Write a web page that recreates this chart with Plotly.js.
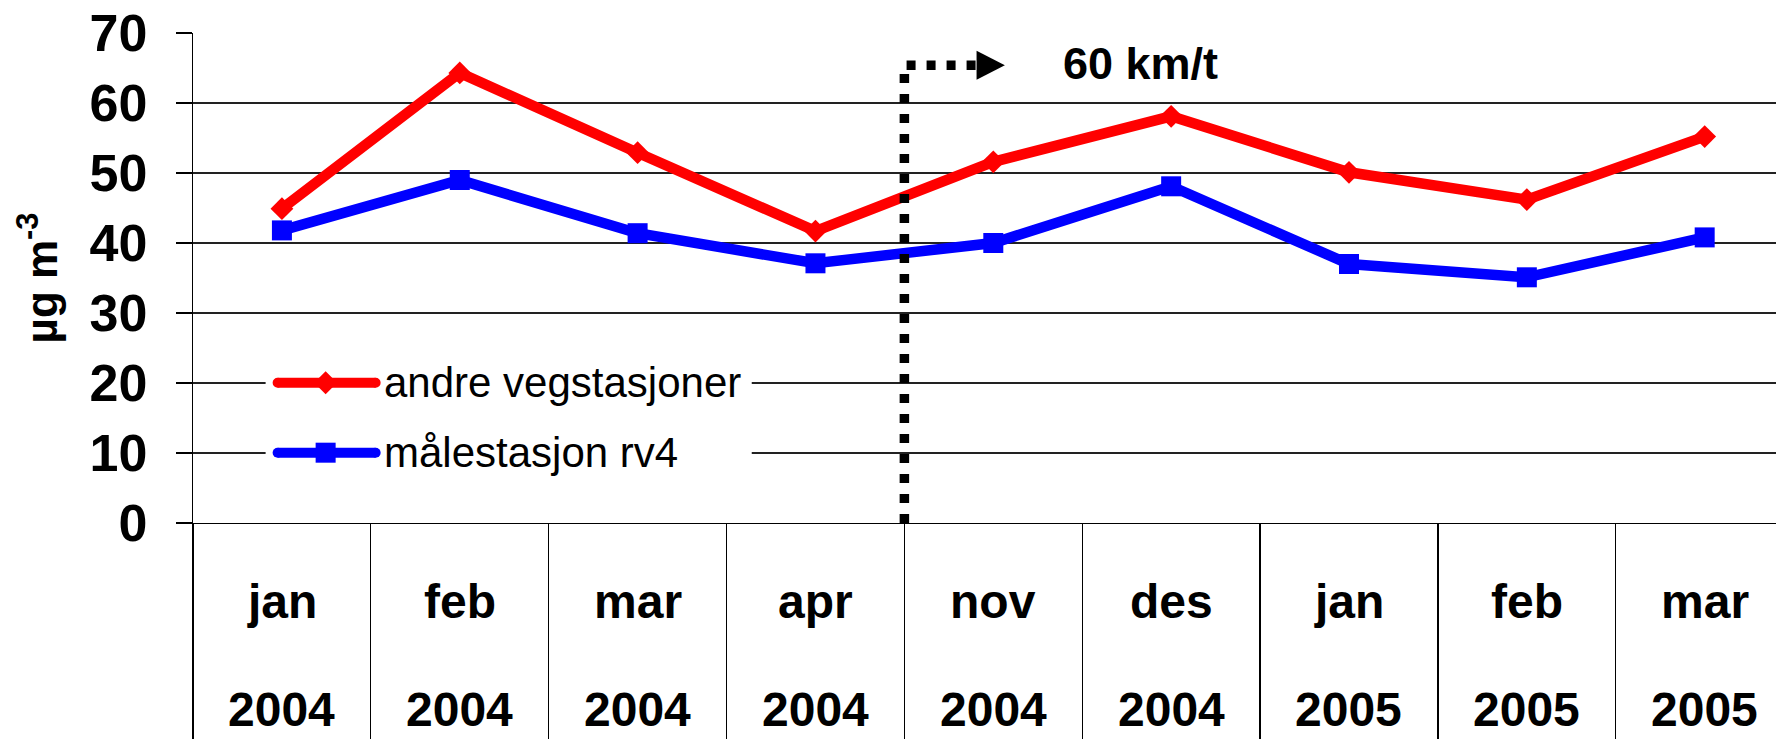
<!DOCTYPE html>
<html>
<head>
<meta charset="utf-8">
<script src="https://cdn.plot.ly/plotly-3.0.1.min.js"></script>
<style>
  html, body { margin: 0; padding: 0; background: #ffffff; }
  #chart { width: 1776px; height: 739px; }
</style>
</head>
<body>
<div id="chart"></div>
<script>
// ---- data ----
const months = ['jan', 'feb', 'mar', 'apr', 'nov', 'des', 'jan', 'feb', 'mar'];
const years = ['2004', '2004', '2004', '2004', '2004', '2004', '2005', '2005', '2005'];
const andreVegstasjoner = [44.9, 64.3, 52.9, 41.7, 51.6, 58.1, 50.1, 46.2, 55.2];
const malestasjonRv4 = [41.8, 49.0, 41.4, 37.1, 40.0, 48.1, 37.0, 35.1, 40.8];
const seriesNames = ['andre vegstasjoner', 'målestasjon rv4'];
const yTickVals = [0, 10, 20, 30, 40, 50, 60, 70];
const yTitle = 'µg m<sup>-3</sup>';
const speedLabel = '60 km/t';

// ---- geometry (pixels) ----
const W = 1776, H = 739;
const plotL = 193.4, plotT = 33.4, plotB = 523.3;
const catW = 177.8;
const xMax = (W - plotL) / catW - 0.5;
const px = x => (x - plotL) / (W - plotL);
const py = y => (plotB - y) / (plotB - plotT);

const idx = months.map((_, i) => i);
const boundaries = [];
for (let i = 0; i <= months.length; i++) boundaries.push(i - 0.5);

const RED = '#ff0000', BLUE = '#0000ff';
const boldFont = "'Liberation Sans', Arial, sans-serif";

const traces = [
  {
    x: idx, y: andreVegstasjoner, name: seriesNames[0], type: 'scatter', mode: 'lines+markers',
    line: { color: RED, width: 10.5 },
    marker: { symbol: 'diamond', size: 17.5, color: RED, line: { width: 0 } },
    showlegend: false, cliponaxis: false
  },
  {
    x: idx, y: malestasjonRv4, name: seriesNames[1], type: 'scatter', mode: 'lines+markers',
    line: { color: BLUE, width: 10.5 },
    marker: { symbol: 'square', size: 20, color: BLUE, line: { width: 0 } },
    showlegend: false, cliponaxis: false
  }
];

const annotations = [];
idx.forEach(i => {
  annotations.push({
    x: i, xref: 'x', y: py(601.4), yref: 'paper', text: months[i], showarrow: false,
    xanchor: 'center', yanchor: 'middle', borderpad: 0,
    font: { family: boldFont, size: 48, color: '#000', weight: 'bold' }
  });
  annotations.push({
    x: i, xref: 'x', y: py(710.2), yref: 'paper', text: years[i], showarrow: false,
    xanchor: 'center', yanchor: 'middle', borderpad: 0,
    font: { family: boldFont, size: 48, color: '#000', weight: 'bold' }
  });
});
// speed change label
annotations.push({
  x: 4.83, xref: 'x', y: 65.66, yref: 'y', text: speedLabel, showarrow: false,
  xanchor: 'center', yanchor: 'middle',
  font: { family: boldFont, size: 45, color: '#000', weight: 'bold' }
});
// legend texts
const legendRows = [383, 453];
seriesNames.forEach((n, k) => {
  annotations.push({
    x: px(382), xref: 'paper', y: py(legendRows[k]), yref: 'paper', text: n, showarrow: false,
    xanchor: 'left', yanchor: 'middle',
    font: { family: boldFont, size: 42, color: '#000' }
  });
});

const shapes = [];
// legend background
shapes.push({ type: 'rect', xref: 'paper', yref: 'paper', x0: px(266), x1: px(752), y0: py(490), y1: py(345),
  fillcolor: '#ffffff', line: { width: 0 }, layer: 'above' });
// legend samples
const legColors = [RED, BLUE];
legendRows.forEach((ry, k) => {
  const c = legColors[k];
  shapes.push({ type: 'line', xref: 'paper', yref: 'paper', x0: px(278), x1: px(376), y0: py(ry), y1: py(ry),
    line: { color: c, width: 10 }, layer: 'above' });
  [278, 376].forEach(cx => shapes.push({ type: 'circle', xref: 'paper', yref: 'paper',
    x0: px(cx - 5), x1: px(cx + 5), y0: py(ry + 5), y1: py(ry - 5), fillcolor: c, line: { width: 0 }, layer: 'above' }));
  if (k === 0) {
    shapes.push({ type: 'path', xref: 'paper', yref: 'paper', layer: 'above', fillcolor: c, line: { width: 0 },
      path: `M ${px(314.5)},${py(ry)} L ${px(326)},${py(ry - 11.5)} L ${px(337.5)},${py(ry)} L ${px(326)},${py(ry + 11.5)} Z` });
  } else {
    shapes.push({ type: 'rect', xref: 'paper', yref: 'paper', layer: 'above', fillcolor: c, line: { width: 0 },
      x0: px(316), x1: px(336), y0: py(ry + 10), y1: py(ry - 10) });
  }
});
// dotted speed-change marker
const yArrow = 65.4;
shapes.push({ type: 'path', xref: 'x', yref: 'y', layer: 'above',
  path: `M 3.5,0 L 3.5,${yArrow} L 3.906,${yArrow}`,
  line: { color: '#000', width: 9.5, dash: '9px,11px' } });
shapes.push({ type: 'path', xref: 'x', yref: 'y', layer: 'above', fillcolor: '#000', line: { width: 0 },
  path: `M 3.906,${yArrow + 2.07} L 4.065,${yArrow} L 3.906,${yArrow - 2.07} Z` });

const layout = {
  width: W, height: H,
  margin: { l: plotL, r: 0, t: plotT, b: H - plotB, pad: 0 },
  paper_bgcolor: '#ffffff', plot_bgcolor: '#ffffff',
  showlegend: false,
  xaxis: {
    type: 'linear', range: [-0.5, xMax], fixedrange: true,
    tickmode: 'array', tickvals: boundaries, showticklabels: false,
    ticks: 'outside', ticklen: H - plotB, tickwidth: 1.2, tickcolor: '#000',
    showgrid: false, zeroline: false,
    showline: true, linecolor: '#000', linewidth: 1.2
  },
  yaxis: {
    range: [0, 70], fixedrange: true,
    tickmode: 'array', tickvals: yTickVals,
    ticks: 'outside', ticklen: 16, tickwidth: 1.2, tickcolor: '#000',
    ticklabelstandoff: 18,
    tickfont: { family: boldFont, size: 52, color: '#000', weight: 'bold' },
    showgrid: true, gridcolor: '#222', gridwidth: 1.2,
    zeroline: false, showline: true, linecolor: '#000', linewidth: 1.2,
    title: { text: yTitle, standoff: 18, font: { family: boldFont, size: 44, color: '#000', weight: 'bold' } }
  },
  annotations: annotations,
  shapes: shapes
};

Plotly.newPlot('chart', traces, layout, { staticPlot: true, displayModeBar: false });
</script>
</body>
</html>
